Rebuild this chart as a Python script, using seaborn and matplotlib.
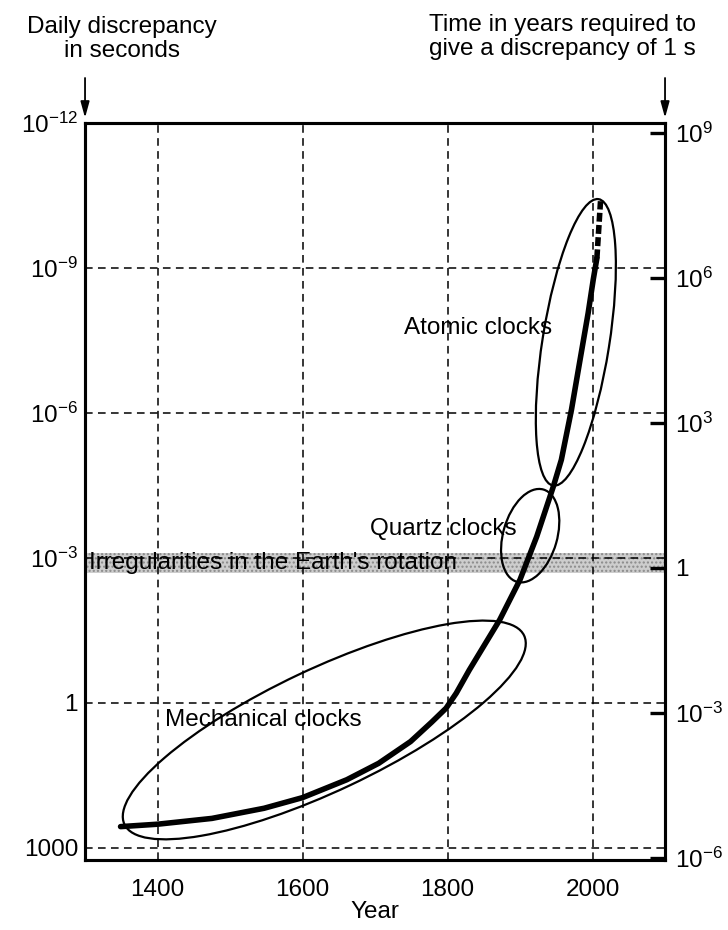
import matplotlib
matplotlib.use("Agg")
import matplotlib.pyplot as plt
import matplotlib.transforms as mtransforms
from matplotlib.patches import Ellipse
import pandas as pd
import seaborn as sns

# best clock accuracy: year vs log10(daily discrepancy in s)
years = [1349, 1400, 1475, 1547, 1600, 1661, 1705, 1749, 1778, 1798, 1812,
         1830, 1872, 1900, 1923, 1946, 1957, 1971, 1982, 1994, 2001, 2006]
log_discrepancy = [2.56, 2.51, 2.39, 2.18, 1.96, 1.59, 1.25, 0.80, 0.40, 0.11, -0.2,
                   -0.68, -1.72, -2.55, -3.44, -4.48, -5.03, -6.07, -7.03, -8.07, -8.76, -9.2]
# dashed extrapolation at the top
future_years = [2006, 2011]
future_log = [-9.2, -10.38]

x_ticks = [1400, 1600, 1800, 2000]
left_ticks = [-12, -9, -6, -3, 0, 3]
left_labels = [r"$10^{-12}$", r"$10^{-9}$", r"$10^{-6}$", r"$10^{-3}$", "1", "1000"]
right_exponents = [9, 6, 3, 0, -3, -6]
right_labels = [r"$10^{9}$", r"$10^{6}$", r"$10^{3}$", "1", r"$10^{-3}$", r"$10^{-6}$"]
RIGHT_OFFSET = 2.8  # log10 shift between the two scales as drawn

# Earth rotation band (log10 s/day)
band_low, band_high = -3.1, -2.69

# clock family regions: label, centre (year, log), semi axes (in), angle, label pos
regions = [
    ("Mechanical clocks", (1630, 0.56), 2.21, 0.61, 25.3, (1410, 0.35)),
    ("Quartz clocks", (1914, -3.46), 0.48, 0.27, 74, (1693, -3.6)),
    ("Atomic clocks", (1977, -7.46), 1.45, 0.334, 81, (1740, -7.76)),
]

sns.set_theme(style="white")
plt.rcParams['font.family'] = ['Liberation Sans', 'DejaVu Sans']
plt.rcParams['mathtext.fontset'] = 'custom'
plt.rcParams['mathtext.rm'] = 'Liberation Sans'
plt.rcParams['mathtext.it'] = 'Liberation Sans:italic'
plt.rcParams['mathtext.bf'] = 'Liberation Sans:bold'
for key in ['text.color', 'axes.labelcolor', 'xtick.color', 'ytick.color']:
    plt.rcParams[key] = 'black'
FS = 17.5

fig = plt.figure(figsize=(7.28, 9.30), dpi=100)
ax = fig.add_axes([0.1168, 0.0753, 0.7967, 0.7925])

# band
ax.axhspan(band_low, band_high, facecolor="#cdcdcd", edgecolor="#8a8a8a",
           hatch="....", linewidth=0, zorder=0.2)
ax.text(1306, -2.9, "Irregularities in the Earth's rotation", fontsize=FS,
        ha="left", va="center", color="black", zorder=3)

# main curve
df = pd.DataFrame({"year": years, "log": log_discrepancy})
sns.lineplot(data=df, x="year", y="log", ax=ax, color="black", linewidth=4,
             sort=False, estimator=None, zorder=4)
sns.lineplot(x=future_years, y=future_log, ax=ax, color="black", linewidth=4,
             linestyle=(0, (1.6, 0.6)), zorder=4)

# ellipses (shape in inches, centred on data)
for label, centre, a, b, ang, txt in regions:
    tr = fig.dpi_scale_trans + mtransforms.ScaledTranslation(centre[0], centre[1], ax.transData)
    ax.add_patch(Ellipse((0, 0), 2 * a, 2 * b, angle=ang, transform=tr,
                         fill=False, edgecolor="black", linewidth=1.6, zorder=3))
    ax.text(txt[0], txt[1], label, fontsize=FS, ha="left", va="center", zorder=5)

ax.set_xlim(1300, 2100)
ax.set_ylim(3.25, -12)
ax.set_xticks(x_ticks)
ax.set_yticks(left_ticks)
ax.set_yticklabels(left_labels)
ax.set_xlabel("Year", fontsize=FS, labelpad=0)
ax.set_ylabel("")
ax.tick_params(axis="x", length=0, pad=14, labelsize=FS)
ax.tick_params(axis="y", length=0, pad=5, labelsize=FS)
ax.grid(True, color="black", linestyle=(0, (5, 3.5)), linewidth=1.1)
ax.set_axisbelow(True)
for s in ax.spines.values():
    s.set_color("black")
    s.set_linewidth(2.2)

# right axis: years to accumulate 1 s
ax2 = ax.twinx()
ax2.set_ylim(ax.get_ylim())
ax2.set_yticks([-e - RIGHT_OFFSET for e in right_exponents])
ax2.set_yticklabels(right_labels)
ax2.tick_params(axis="y", direction="in", length=11, width=2.4, pad=7,
                labelsize=FS, color="black")
ax2.grid(False)
for s in ax2.spines.values():
    s.set_linewidth(2.2)
    s.set_color("black")

# header texts and arrows
fig.text(0.168, 0.958, "Daily discrepancy\nin seconds", ha="center", va="center",
         fontsize=FS, linespacing=1.1)
fig.text(0.772, 0.960, "Time in years required to\ngive a discrepancy of 1 s",
         ha="center", va="center", fontsize=FS, linespacing=1.1)
arrow = dict(arrowstyle="-|>,head_length=0.8,head_width=0.22", color="black",
             lw=1.3, shrinkA=0, shrinkB=0)
ax.annotate("", xy=(0, 1.007), xytext=(0, 1.061), xycoords="axes fraction",
            arrowprops=arrow, annotation_clip=False)
ax.annotate("", xy=(1, 1.007), xytext=(1, 1.061), xycoords="axes fraction",
            arrowprops=arrow, annotation_clip=False)

fig.savefig("out.png", dpi=100)
